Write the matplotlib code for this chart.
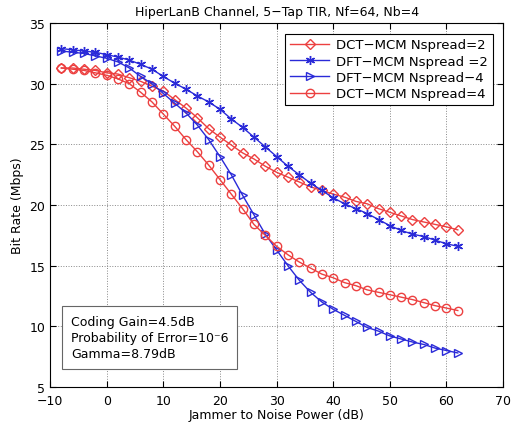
import numpy as np
import matplotlib
matplotlib.use('Agg')
import matplotlib.pyplot as plt

# jammer to noise power (dB)
jnr = list(range(-8, 64, 2))

# bit rate (Mbps)
dct_n2 = [31.3, 31.3, 31.2, 31.1, 30.9, 30.8, 30.5, 30.2, 29.8, 29.4, 28.7, 28.0,
          27.2, 26.3, 25.6, 24.95, 24.3, 23.8, 23.2, 22.7, 22.3, 21.9, 21.5, 21.2,
          20.9, 20.65, 20.3, 20.1, 19.7, 19.4, 19.1, 18.8, 18.6, 18.4, 18.2, 17.95]
dft_n2 = [32.9, 32.8, 32.7, 32.6, 32.4, 32.2, 31.95, 31.6, 31.2, 30.6, 30.05, 29.55,
          29.0, 28.5, 27.9, 27.1, 26.4, 25.6, 24.8, 24.0, 23.2, 22.5, 21.8, 21.2,
          20.6, 20.1, 19.7, 19.3, 18.8, 18.3, 17.9, 17.6, 17.4, 17.1, 16.8, 16.6]
dft_n4 = [32.7, 32.6, 32.5, 32.3, 32.1, 31.8, 31.3, 30.6, 30.0, 29.2, 28.4, 27.6,
          26.6, 25.4, 24.0, 22.5, 20.8, 19.2, 17.6, 16.3, 15.0, 13.8, 12.8, 12.0,
          11.4, 10.9, 10.4, 9.9, 9.6, 9.2, 8.95, 8.7, 8.5, 8.2, 8.0, 7.8]
dct_n4 = [31.3, 31.2, 31.1, 30.9, 30.7, 30.4, 30.0, 29.3, 28.5, 27.5, 26.5, 25.4,
          24.4, 23.3, 22.1, 20.9, 19.7, 18.4, 17.5, 16.6, 15.9, 15.3, 14.8, 14.3,
          14.0, 13.6, 13.35, 13.0, 12.8, 12.6, 12.4, 12.2, 11.95, 11.7, 11.5, 11.3]

red = '#ec4040'
blue = '#2a2ad8'

fig = plt.figure(figsize=(5.16, 4.31), dpi=100)
ax = fig.add_axes([0.097, 0.1, 0.878, 0.844])

ax.plot(jnr, dct_n2, '-', color=red, marker='D', ms=5, mfc='none', mew=1.0, lw=1.0,
        label='DCT\u2212MCM Nspread=2')
ax.plot(jnr, dft_n2, '-', color=blue, marker=(6, 2, 0), ms=6.5, mfc='none', mew=1.0, lw=1.0,
        label='DFT\u2212MCM Nspread =2')
ax.plot(jnr, dft_n4, '-', color=blue, marker='>', ms=6, mfc='none', mew=1.0, lw=1.0,
        label='DFT\u2212MCM Nspread\u22124')
ax.plot(jnr, dct_n4, '-', color=red, marker='o', ms=6, mfc='none', mew=1.0, lw=1.0,
        label='DCT\u2212MCM Nspread=4')

ax.set_xlim(-10, 70)
ax.set_ylim(5, 35)
ax.set_xticks(range(-10, 80, 10))
ax.set_yticks(range(5, 40, 5))
ax.tick_params(direction='in', labelsize=9, length=4, top=True, right=True)
ax.tick_params(axis='x', pad=5)
ax.grid(True, linestyle=':', color='#888888', lw=0.7)
for s in ax.spines.values():
    s.set_linewidth(0.8)

ax.set_title('HiperLanB Channel, 5\u2212Tap TIR, Nf=64, Nb=4', fontsize=9)
ax.set_xlabel('Jammer to Noise Power (dB)', fontsize=9, labelpad=1)
ax.set_ylabel('Bit Rate (Mbps)', fontsize=9, labelpad=4)

leg = ax.legend(loc='upper right', fontsize=9.5, fancybox=False, framealpha=1,
                edgecolor='black', borderaxespad=0.8, handlelength=3,
                labelspacing=0.25, borderpad=0.35, handletextpad=0.5)
leg.get_frame().set_linewidth(0.8)

ax.text(-6.3, 7.2, 'Coding Gain=4.5dB\nProbability of Error=10\u207b6\nGamma=8.79dB',
        fontsize=9, linespacing=1.3, va='bottom', ha='left',
        bbox=dict(boxstyle='square,pad=0.7', fc='white', ec='#666666', lw=0.8))

fig.savefig('out.png', dpi=100)
